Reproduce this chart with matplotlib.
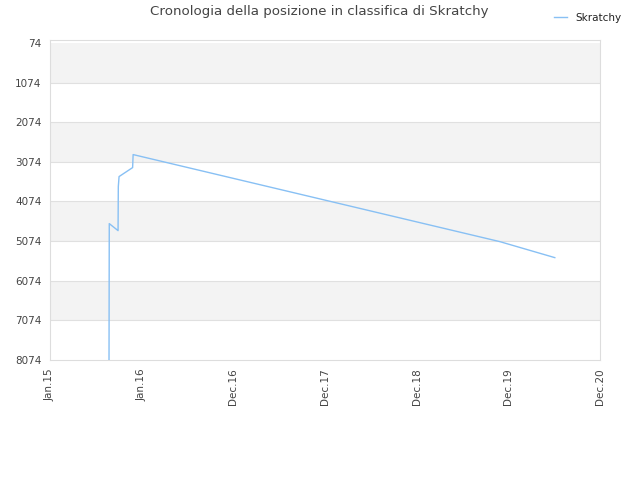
import matplotlib
matplotlib.use("Agg")
import matplotlib.pyplot as plt
import matplotlib.dates as mdates
import numpy as np
from datetime import datetime

# Dati
dates = ["2015-08-24", "2015-08-25", "2015-09-29", "2015-09-30", "2015-10-03",
         "2015-11-26", "2015-11-28", "2019-11-27", "2020-07-03"]
ranks = [8074, 4633, 4810, 3699, 3446, 3219, 2891, 5087, 5491]

yticks = [74, 1074, 2074, 3074, 4074, 5074, 6074, 7074, 8074]
xlabels = ["Jan.15", "Jan.16", "Dec.16", "Dec.17", "Dec.18", "Dec.19", "Dec.20"]
x_start, x_end = datetime(2015, 1, 1), datetime(2020, 12, 30)

fig = plt.figure(figsize=(6.4, 4.8), dpi=100)
ax = fig.add_axes([50/640, 1-360/480, 550/640, 320/480])

x = mdates.date2num([datetime.strptime(d, "%Y-%m-%d") for d in dates])
x0, x1 = mdates.date2num(x_start), mdates.date2num(x_end)

# bande alternate
for i in range(len(yticks)-1):
    if i % 2 == 0:
        ax.axhspan(yticks[i], yticks[i+1], color="#f3f3f3", lw=0, zorder=0)
for t in yticks[1:-1]:
    ax.axhline(t, color="#e0e0e0", lw=0.8, zorder=1)

ax.plot(x, ranks, color="#88c0f4", lw=1, label="Skratchy", zorder=3)

ax.set_xlim(x0, x1)
ax.set_ylim(8074, 0)
ax.set_yticks(yticks)
ax.set_yticklabels([str(t) for t in yticks])
ax.set_xticks(np.linspace(x0, x1, len(xlabels)))
ax.set_xticklabels(xlabels, rotation=90)
ax.tick_params(length=0, labelsize=7.5, colors="#444444", pad=6)

for s in ax.spines.values():
    s.set_color("#dddddd")

fig.text(0.499, 0.99, "Cronologia della posizione in classifica di Skratchy",
         ha="center", va="top", fontsize=9.6, color="#444444")
fig.legend(loc="upper right", bbox_to_anchor=(0.985, 0.993), frameon=False,
           fontsize=7.5, handlelength=1.2, handletextpad=0.8, labelcolor="#222222")

plt.savefig("out.png", dpi=100)
